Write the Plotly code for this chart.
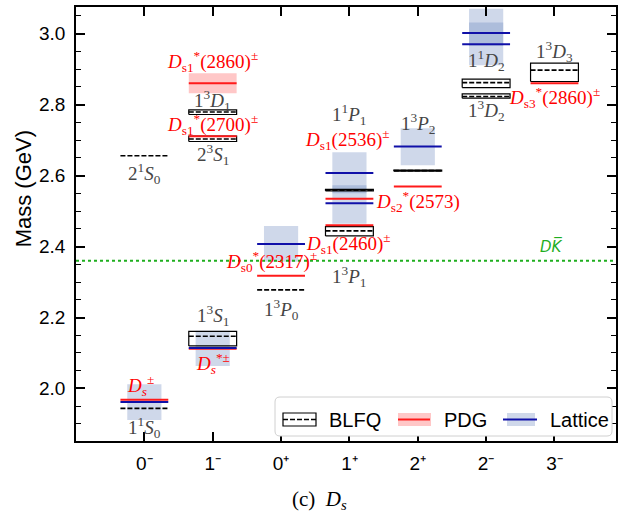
import plotly.graph_objects as go

# J^P columns on the x axis
categories = ["0⁻", "1⁻", "0⁺", "1⁺", "2⁺", "2⁻", "3⁻"]

# BLFQ states: column, central mass (GeV), box low / high, spectroscopic label
blfq_col = [0, 0, 1, 1, 1, 2, 3, 3, 4, 5, 5, 6]
blfq_mass = [1.944, 2.656, 2.147, 2.703, 2.779, 2.278, 2.559, 2.444, 2.614, 2.862, 2.823, 2.897]
blfq_lo = [1.944, 2.656, 2.120, 2.696, 2.772, 2.278, 2.557, 2.430, 2.6125, 2.848, 2.818, 2.865]
blfq_hi = [1.944, 2.656, 2.161, 2.711, 2.785, 2.278, 2.561, 2.456, 2.6155, 2.872, 2.830, 2.917]
blfq_name = ["1<sup>1</sup><i>S</i><sub>0</sub>", "2<sup>1</sup><i>S</i><sub>0</sub>",
             "1<sup>3</sup><i>S</i><sub>1</sub>", "2<sup>3</sup><i>S</i><sub>1</sub>",
             "1<sup>3</sup><i>D</i><sub>1</sub>", "1<sup>3</sup><i>P</i><sub>0</sub>",
             "1<sup>1</sup><i>P</i><sub>1</sub>", "1<sup>3</sup><i>P</i><sub>1</sub>",
             "1<sup>3</sup><i>P</i><sub>2</sub>", "1<sup>1</sup><i>D</i><sub>2</sub>",
             "1<sup>3</sup><i>D</i><sub>2</sub>", "1<sup>3</sup><i>D</i><sub>3</sub>"]
blfq_label_x = [0, 0, 1, 1, 1, 2, 3, 3, 4, 5, 5, 6]
blfq_label_y = [1.891, 2.607, 2.206, 2.660, 2.812, 2.222, 2.772, 2.315, 2.747, 2.923, 2.783, 2.951]

# PDG states: column, mass, band low / high, name
pdg_col = [0, 1, 1, 1, 2, 3, 3, 4, 6]
pdg_mass = [1.968, 2.112, 2.711, 2.860, 2.318, 2.460, 2.535, 2.569, 2.860]
pdg_lo = [1.968, 2.112, 2.711, 2.832, 2.318, 2.460, 2.535, 2.569, 2.860]
pdg_hi = [1.968, 2.112, 2.711, 2.888, 2.318, 2.460, 2.535, 2.569, 2.860]
pdg_name = ["<i>D</i><sub><i>s</i></sub><sup>±</sup>",
            "<i>D</i><sub><i>s</i></sub><sup>*±</sup>",
            "<i>D</i><sub>s1</sub><sup>*</sup>(2700)<sup>±</sup>",
            "<i>D</i><sub>s1</sub><sup>*</sup>(2860)<sup>±</sup>",
            "<i>D</i><sub>s0</sub><sup>*</sup>(2317)<sup>±</sup>",
            "<i>D</i><sub>s1</sub>(2460)<sup>±</sup>",
            "<i>D</i><sub>s1</sub>(2536)<sup>±</sup>",
            "<i>D</i><sub>s2</sub><sup>*</sup>(2573)",
            "<i>D</i><sub>s3</sub><sup>*</sup>(2860)<sup>±</sup>"]
pdg_label_x = [-0.05, 1, 1, 1, 1.86, 2.99, 2.97, 4.0, 6.0]
pdg_label_y = [2.009, 2.071, 2.743, 2.921, 2.357, 2.408, 2.702, 2.526, 2.821]

# Lattice QCD states: column, mass, band low / high
lat_col = [0, 1, 2, 3, 3, 4, 5, 5]
lat_mass = [1.962, 2.114, 2.407, 2.607, 2.522, 2.682, 3.002, 2.970]
lat_lo = [1.911, 2.063, 2.357, 2.550, 2.464, 2.629, 2.966, 2.911]
lat_hi = [2.012, 2.163, 2.458, 2.666, 2.573, 2.733, 3.070, 3.031]

# D K-bar threshold (GeV)
dk_threshold = 2.36

LINE_HW = 0.35   # half-width of level lines
BAND_HW = 0.25   # half-width of lattice bands
RED = "#ff1a1a"
BLUE = "#1010a8"
GRAY = "#454545"

fig = go.Figure()


def rect(col, lo, hi, hw):
    return [col - hw, col + hw, col + hw, col - hw, col - hw], [lo, lo, hi, hi, lo]


# lattice error bands
for c, lo, hi in zip(lat_col, lat_lo, lat_hi):
    xs, ys = rect(c, lo, hi, BAND_HW)
    fig.add_trace(go.Scatter(x=xs, y=ys, fill="toself", fillcolor="rgba(95,125,185,0.30)",
                             line=dict(width=0), mode="lines", hoverinfo="skip", showlegend=False))

# PDG error bands
for c, lo, hi in zip(pdg_col, pdg_lo, pdg_hi):
    if hi - lo > 1e-6:
        xs, ys = rect(c, lo, hi, LINE_HW)
        fig.add_trace(go.Scatter(x=xs, y=ys, fill="toself", fillcolor="rgba(255,0,0,0.22)",
                                 line=dict(width=0), mode="lines", hoverinfo="skip", showlegend=False))

# BLFQ boxes and central dashed lines
for c, m, lo, hi in zip(blfq_col, blfq_mass, blfq_lo, blfq_hi):
    if hi - lo > 1e-6:
        xs, ys = rect(c, lo, hi, LINE_HW)
        fig.add_trace(go.Scatter(x=xs, y=ys, mode="lines", line=dict(color="black", width=1.2),
                                 hoverinfo="skip", showlegend=False))
    fig.add_trace(go.Scatter(x=[c - LINE_HW, c + LINE_HW], y=[m, m], mode="lines",
                             line=dict(color="black", width=1.6, dash="5px,2px"),
                             hoverinfo="skip", showlegend=False))

# PDG central values
for c, m in zip(pdg_col, pdg_mass):
    fig.add_trace(go.Scatter(x=[c - LINE_HW, c + LINE_HW], y=[m, m], mode="lines",
                             line=dict(color=RED, width=2), hoverinfo="skip", showlegend=False))

# lattice central values
for c, m in zip(lat_col, lat_mass):
    fig.add_trace(go.Scatter(x=[c - LINE_HW, c + LINE_HW], y=[m, m], mode="lines",
                             line=dict(color=BLUE, width=2), hoverinfo="skip", showlegend=False))

# threshold line
fig.add_trace(go.Scatter(x=[-1, 6.9], y=[dk_threshold, dk_threshold], mode="lines",
                         line=dict(color="#1fae1f", width=2, dash="3px,3px"),
                         hoverinfo="skip", showlegend=False))

annotations = []
for t, x, y in zip(blfq_name, blfq_label_x, blfq_label_y):
    annotations.append(dict(x=x, y=y, xref="x", yref="y", text=t, showarrow=False,
                            font=dict(family="Liberation Serif", size=19, color=GRAY),
                            xanchor="center", yanchor="middle"))
for t, x, y in zip(pdg_name, pdg_label_x, pdg_label_y):
    annotations.append(dict(x=x, y=y, xref="x", yref="y", text=t, showarrow=False,
                            font=dict(family="Liberation Serif", size=19, color="red"),
                            xanchor="center", yanchor="middle"))
annotations.append(dict(x=5.95, y=2.40, xref="x", yref="y", text="<i>DK̅</i>", showarrow=False,
                        font=dict(family="DejaVu Sans", size=15, color="#1fae1f"),
                        xanchor="center", yanchor="middle"))

# axis title and caption
annotations.append(dict(x=-0.098, y=0.58, xref="paper", yref="paper", text="Mass (GeV)",
                        textangle=-90, showarrow=False,
                        font=dict(family="Liberation Sans", size=22, color="black"),
                        xanchor="center", yanchor="middle"))
annotations.append(dict(x=0.45, y=-0.135, xref="paper", yref="paper",
                        text="(c)  <i>D</i><sub><i>s</i></sub>", showarrow=False,
                        font=dict(family="Liberation Serif", size=21, color="black"),
                        xanchor="center", yanchor="middle"))

# legend drawn in pixel offsets from the lower-left plot corner
def rounded(x0, y0, x1, y1, r):
    return (f"M {x0 + r},{y0} L {x1 - r},{y0} Q {x1},{y0} {x1},{y0 + r} "
            f"L {x1},{y1 - r} Q {x1},{y1} {x1 - r},{y1} L {x0 + r},{y1} "
            f"Q {x0},{y1} {x0},{y1 - r} L {x0},{y0 + r} Q {x0},{y0} {x0 + r},{y0} Z")


pix = dict(xref="paper", yref="paper", xsizemode="pixel", ysizemode="pixel", xanchor=0, yanchor=0)
shapes = [
    dict(type="path", path=rounded(199, 5, 536, 44, 5), fillcolor="white",
         line=dict(color="#d0d0d0", width=1), **pix),
    dict(type="rect", x0=207, x1=240, y0=15, y1=28, line=dict(color="black", width=1.2), **pix),
    dict(type="line", x0=207, x1=240, y0=21.5, y1=21.5,
         line=dict(color="black", width=1.5, dash="5px,2px"), **pix),
    dict(type="rect", x0=322, x1=355, y0=15, y1=28, fillcolor="rgba(255,0,0,0.22)",
         line=dict(width=0), **pix),
    dict(type="line", x0=322, x1=354, y0=21.5, y1=21.5, line=dict(color=RED, width=2), **pix),
    dict(type="rect", x0=431, x1=459, y0=15, y1=28, fillcolor="rgba(95,125,185,0.30)",
         line=dict(width=0), **pix),
    dict(type="line", x0=427, x1=461, y0=21.5, y1=21.5, line=dict(color=BLUE, width=2), **pix),
]
for t, px in [("BLFQ", 251), ("PDG", 366), ("Lattice", 472)]:
    annotations.append(dict(x=px / 540, y=21.5 / 436, xref="paper", yref="paper", text=t,
                            showarrow=False, xanchor="left", yanchor="middle",
                            font=dict(family="Liberation Sans", size=20, color="black")))

axis_common = dict(showline=True, linecolor="black", linewidth=1.5, mirror="allticks",
                   ticks="inside", ticklen=9, tickwidth=1.5, tickcolor="black",
                   showgrid=False, zeroline=False,
                   tickfont=dict(family="Liberation Sans", size=19, color="black"))

fig.update_layout(
    width=624, height=518,
    margin=dict(l=76, r=8, t=5, b=77),
    paper_bgcolor="white", plot_bgcolor="white",
    xaxis=dict(range=[-1, 6.9], tickmode="array", tickvals=list(range(len(categories))),
               ticktext=categories, ticklabelstandoff=4, **axis_common),
    yaxis=dict(range=[1.852, 3.075], tickmode="array", tickvals=[2.0, 2.2, 2.4, 2.6, 2.8, 3.0],
               ticktext=["2.0", "2.2", "2.4", "2.6", "2.8", "3.0"], ticklabelstandoff=5,
               minor=dict(ticks="inside", ticklen=5, tickwidth=1.2, tickcolor="black",
                          dtick=0.05, tick0=2.0),
               **axis_common),
    annotations=annotations,
    shapes=shapes,
    showlegend=False,
)

fig.write_html("out.html")
